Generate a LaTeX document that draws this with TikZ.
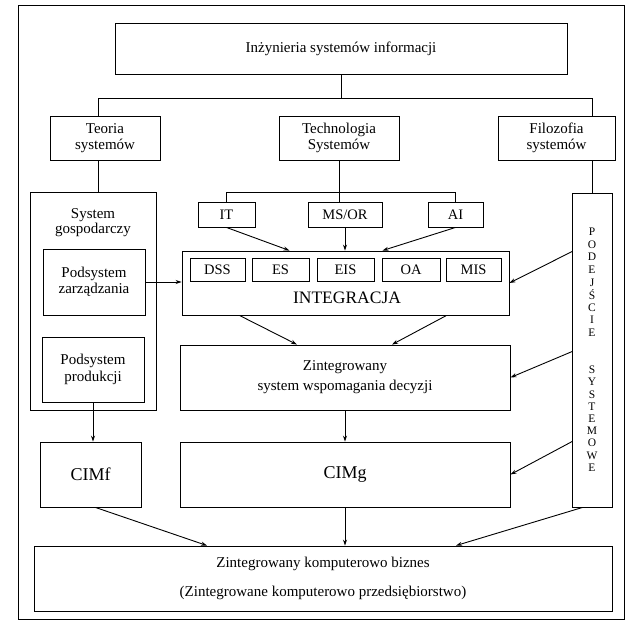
\documentclass[tikz,border=0pt]{standalone}
\usepackage{fontspec}
\setmainfont{Liberation Serif}
\usetikzlibrary{arrows.meta,calc}
\tikzset{
  box/.style={draw,line width=0.9pt,align=center,inner sep=1pt,font=\fontsize{15}{16.5}\selectfont},
  cellbox/.style={box,minimum height=23pt,font=\fontsize{14.5}{16}\selectfont},
  bigtxt/.style={inner sep=0pt,font=\fontsize{17.5}{20}\selectfont},
  txt/.style={inner sep=0pt,align=center,font=\fontsize{15}{15.5}\selectfont},
  letter/.style={inner sep=0pt,font=\fontsize{11.5}{12}\selectfont},
  ar/.style={-{Stealth[length=6pt,width=4pt]},line width=0.9pt},
  ln/.style={line width=0.9pt}
}
\begin{document}
\begin{tikzpicture}[x=1pt,y=-1pt]
\useasboundingbox (0,0) rectangle (629,624);
\draw[line width=0.8pt] (18,5) rectangle (624,619);
% top levels
\node[box,minimum width=452pt,minimum height=51pt] (ing) at (341,48.5) {Inżynieria systemów informacji};
\node[box,minimum width=110pt,minimum height=44pt] (teo) at (105,138) {Teoria\\systemów};
\node[box,minimum width=120pt,minimum height=44pt] (tech) at (339,138) {Technologia\\Systemów};
\node[box,minimum width=117pt,minimum height=44pt] (filo) at (556.5,138) {Filozofia\\systemów};
% left column
\node[box,minimum width=126pt,minimum height=218pt] (gosp) at (93,301) {};
\node[txt,anchor=north] (gosptxt) at (93,208) {System\\gospodarczy};
\node[box,minimum width=102pt,minimum height=66pt] (zarz) at (94,282) {Podsystem\\zarządzania};
\node[box,minimum width=102pt,minimum height=65pt] (prod) at (93,369.5) {Podsystem\\produkcji};
% technologies
\node[cellbox,minimum width=57pt,minimum height=25pt] (it) at (226.5,214.5) {IT};
\node[cellbox,minimum width=74pt,minimum height=25pt] (msor) at (345,214.5) {MS/OR};
\node[cellbox,minimum width=55pt,minimum height=25pt] (ai) at (455.5,214.5) {AI};
% integration block
\node[box,minimum width=327pt,minimum height=64pt] (integ) at (345.5,283) {};
\node[cellbox,minimum width=55pt] (dss) at (217.5,269.5) {DSS};
\node[cellbox,minimum width=57pt] (es) at (280.5,269.5) {ES};
\node[cellbox,minimum width=57pt] (eis) at (345.5,269.5) {EIS};
\node[cellbox,minimum width=58pt] (oa) at (411,269.5) {OA};
\node[cellbox,minimum width=55pt] (mis) at (473.5,269.5) {MIS};
\node[bigtxt] (integtxt) at (347,298) {INTEGRACJA};
\node[box,minimum width=330pt,minimum height=65pt,font=\fontsize{15}{20}\selectfont] (zint) at (345,377.5) {Zintegrowany\\system wspomagania decyzji};
% CIM
\node[box,minimum width=101pt,minimum height=65pt,font=\fontsize{18}{20}\selectfont] (cimf) at (90.5,474.5) {CIMf};
\node[box,minimum width=330pt,minimum height=65pt,font=\fontsize{18}{20}\selectfont] (cimg) at (345,474.5) {CIMg};
% right column
\node[box,minimum width=40pt,minimum height=314pt] (pod) at (592.5,350) {};
\foreach \l [count=\i from 0] in {P,O,D,E,J,Ś,C,I,E}
  \node[letter] (pa\i) at (592,{232+12.6*\i}) {\l};
\foreach \l [count=\i from 0] in {S,Y,S,T,E,M,O,W,E}
  \node[letter] (pb\i) at (592,{370+12.2*\i}) {\l};
% bottom
\node[box,minimum width=578pt,minimum height=65pt,font=\fontsize{15}{20}\selectfont] (biz) at (323,578.5) {Zintegrowany komputerowo biznes\\[9pt](Zintegrowane komputerowo przedsiębiorstwo)};
% tree lines
\coordinate (hl) at (98,98);
\coordinate (hr) at (592,98);
\coordinate (tl) at (226.5,192);
\coordinate (tr) at (455.5,192);
\draw[ln] (ing.south) -- (ing.south |- hl);
\draw[ln] (hl |- teo.north) -- (hl) -- (hr) -- (hr |- filo.north);
\draw[ln] (hl |- teo.south) -- (hl |- gosp.north);
\draw[ln] (hr |- filo.south) -- (hr |- pod.north);
\draw[ln] (tech.south) -- (tech.south |- msor.north);
\draw[ln] (it.north) -- (tl) -- (tr) -- (ai.north);
% arrows
\draw[ar] (it.south) -- ([xshift=-56pt]integ.north);
\draw[ar] (msor.south) -- (msor.south |- integ.north);
\draw[ar] (ai.south) -- ([xshift=37pt]integ.north);
\draw[ar] (zarz.east) -- (zarz.east -| integ.west);
\draw[ar] ($(pod.north west)+(0,59)$) -- (integ.east);
\draw[ar] ([xshift=-106pt]integ.south) -- ([xshift=-48pt]zint.north);
\draw[ar] ([xshift=101pt]integ.south) -- ([xshift=47pt]zint.north);
\draw[ar] ($(pod.north west)+(0,159)$) -- (zint.east);
\draw[ar] (zint.south) -- (zint.south |- cimg.north);
\draw[ar] ($(pod.north west)+(0,249)$) -- (cimg.east);
\draw[ar] (prod.south) -- (prod.south |- cimf.north);
\draw[ar] ([xshift=5pt]cimf.south) -- ([xshift=-116pt]biz.north);
\draw[ar] (cimg.south) -- (cimg.south |- biz.north);
\draw[ar] ([xshift=-10pt]pod.south) -- ([xshift=133pt]biz.north);
\end{tikzpicture}
\end{document}
